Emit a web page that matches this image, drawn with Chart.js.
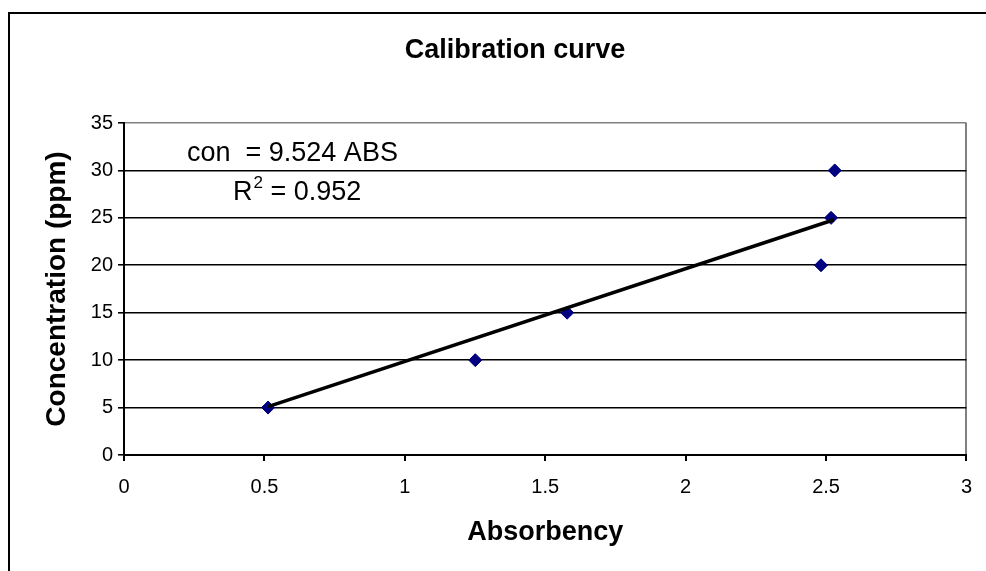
<!DOCTYPE html>
<html>
<head>
<meta charset="utf-8">
<script src="https://cdn.jsdelivr.net/npm/chart.js@4/dist/chart.umd.min.js"></script>
<style>
html,body{margin:0;padding:0;background:#fff;}
#wrap{width:986px;height:571px;}
</style>
</head>
<body>
<div id="wrap"><canvas id="c" width="986" height="571"></canvas></div>
<script>
// ---- data ----
const chartTitle = 'Calibration curve';
const xAxisTitle = 'Absorbency';
const yAxisTitle = 'Concentration (ppm)';
const absorbency = [0.513, 1.251, 1.578, 2.482, 2.518, 2.531];
const concentration = [5, 10, 15, 20, 25, 30];
const trendAbsorbency = [0.513, 2.528];
const trendConcentration = [5.1, 24.8];
const xTickValues = [0, 0.5, 1, 1.5, 2, 2.5, 3];
const xTickLabels = ['0', '0.5', '1', '1.5', '2', '2.5', '3'];
const yTickValues = [0, 5, 10, 15, 20, 25, 30, 35];
const yTickLabels = ['0', '5', '10', '15', '20', '25', '30', '35'];
const equationText = 'con  = 9.524 ABS';
const r2Label = 'R';
const r2Sup = '2';
const r2Value = ' = 0.952';

const FONT = '"Liberation Sans", Arial, Helvetica, sans-serif';

const decor = {
  id: 'decor',
  beforeDraw(chart) {
    const ctx = chart.ctx;
    ctx.save();
    ctx.fillStyle = '#fff';
    ctx.fillRect(0, 0, chart.width, chart.height);
    ctx.strokeStyle = '#000';
    ctx.lineWidth = 2;
    ctx.strokeRect(9, 13, 1200, 1200);
    ctx.restore();
  },
  afterDraw(chart) {
    const ctx = chart.ctx;
    ctx.save();
    ctx.fillStyle = '#000';
    ctx.textBaseline = 'alphabetic';
    // chart title
    ctx.font = 'bold 27px ' + FONT;
    ctx.textAlign = 'center';
    ctx.fillText(chartTitle, 515, 58);
    // equation annotation
    ctx.textAlign = 'left';
    ctx.font = '27px ' + FONT;
    ctx.fillText(equationText, 187, 161);
    let x = 233;
    ctx.fillText(r2Label, x, 200);
    x += ctx.measureText(r2Label).width;
    ctx.font = '17px ' + FONT;
    ctx.fillText(r2Sup, x + 1, 188);
    x += ctx.measureText(r2Sup).width + 1;
    ctx.font = '27px ' + FONT;
    ctx.fillText(r2Value, x, 200);
    ctx.restore();
  }
};

new Chart(document.getElementById('c'), {
  type: 'scatter',
  data: {
    datasets: [
      {
        label: 'Trend',
        data: trendAbsorbency.map((x, i) => ({ x: x, y: trendConcentration[i] })),
        showLine: true,
        borderColor: '#000',
        borderWidth: 3.5,
        pointRadius: 0,
        fill: false,
        order: 0
      },
      {
        label: 'Concentration',
        data: absorbency.map((x, i) => ({ x: x, y: concentration[i] })),
        showLine: false,
        pointStyle: 'rectRot',
        pointRadius: 6.5,
        pointHoverRadius: 6.5,
        backgroundColor: '#000080',
        borderColor: '#000080',
        borderWidth: 1,
        order: 1
      }
    ]
  },
  options: {
    responsive: false,
    animation: false,
    devicePixelRatio: 1,
    layout: { padding: { left: 0, right: 18, top: 123, bottom: 0 } },
    plugins: {
      legend: { display: false },
      title: { display: false },
      tooltip: { enabled: false }
    },
    scales: {
      x: {
        type: 'linear',
        position: 'bottom',
        min: 0,
        max: 3,
        afterBuildTicks: s => { s.ticks = xTickValues.map(v => ({ value: v })); },
        afterFit: s => { s.height = 116; },
        ticks: {
          callback: (v, i) => xTickLabels[i],
          font: { family: FONT, size: 20 },
          color: '#000',
          padding: 14,
          maxRotation: 0,
          autoSkip: false
        },
        grid: {
          color: c => (c.tick && c.tick.value === 3) ? '#808080' : 'rgba(0,0,0,0)',
          lineWidth: 2,
          tickColor: '#000',
          tickLength: 6,
          drawTicks: true
        },
        border: { display: true, color: '#000', width: 2 },
        title: {
          display: true,
          text: xAxisTitle,
          font: { family: FONT, size: 27, weight: 'bold' },
          color: '#000',
          padding: { top: 0, bottom: 22 }
        }
      },
      y: {
        type: 'linear',
        position: 'left',
        min: 0,
        max: 35,
        afterBuildTicks: s => { s.ticks = yTickValues.map(v => ({ value: v })); },
        afterFit: s => { s.width = 124; },
        ticks: {
          callback: (v, i) => yTickLabels[i],
          font: { family: FONT, size: 20 },
          color: '#000',
          padding: 5,
          autoSkip: false
        },
        grid: {
          color: c => (c.tick && c.tick.value === 35) ? '#808080' : '#000',
          lineWidth: 1.6,
          tickColor: '#000',
          tickLength: 6,
          drawTicks: true
        },
        border: { display: true, color: '#000', width: 2 },
        title: {
          display: true,
          text: yAxisTitle,
          font: { family: FONT, size: 28, weight: 'bold' },
          color: '#000',
          padding: { top: 40, bottom: 0 }
        }
      }
    }
  },
  plugins: [decor]
});
</script>
</body>
</html>
